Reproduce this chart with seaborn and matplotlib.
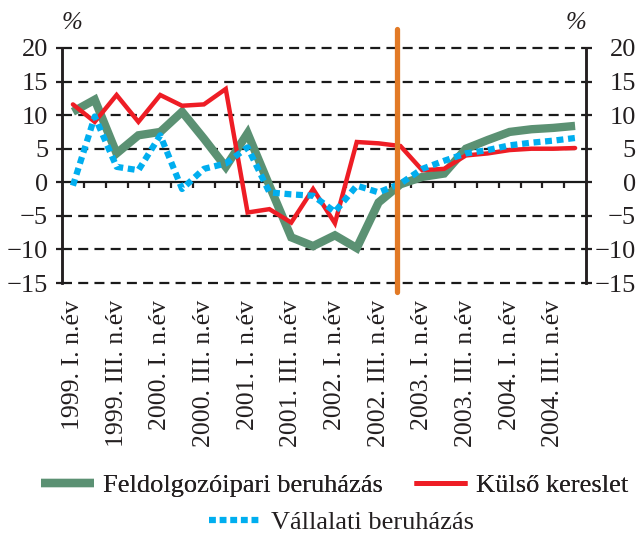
import numpy as np
import pandas as pd
import matplotlib
matplotlib.use("Agg")
import matplotlib.pyplot as plt
import seaborn as sns
from matplotlib.lines import Line2D

years = ["1999", "2000", "2001", "2002", "2003", "2004"]
quarters_roman = ["I.", "II.", "III.", "IV."]
quarter_labels = [f"{y}. {q} n.év" for y in years for q in quarters_roman]

feldolgozoipari = [10.5, 12.3, 4.3, 7.0, 7.5, 10.5, 6.5, 2.3, 7.3, -0.5, -8.2, -9.5,
                   -7.9, -9.8, -3.0, -0.3, 0.8, 1.3, 5.0, 6.3, 7.5, 7.9, 8.1, 8.4]
kulso_kereslet = [11.6, 9.0, 13.0, 9.0, 13.0, 11.4, 11.6, 13.9, -4.5, -4.0, -6.0, -1.0,
                  -6.1, 6.0, 5.8, 5.4, 1.8, 2.0, 4.0, 4.3, 4.8, 5.0, 5.0, 5.1]
vallalati = [-0.5, 9.8, 2.3, 1.8, 7.0, -1.0, 2.0, 2.8, 5.2, -1.5, -1.8, -2.0,
             -4.4, -0.5, -1.5, -0.2, 2.0, 3.2, 4.3, 4.8, 5.5, 5.9, 6.2, 6.6]

series_names = ["Feldolgozóipari beruházás", "Külső kereslet", "Vállalati beruházás"]
yticks = [-15, -10, -5, 0, 5, 10, 15, 20]
forecast_start = 14.85

GREEN = "#5B9173"
RED = "#EE1D25"
BLUE = "#00AEEF"
ORANGE = "#E27A26"
INK = "#231f20"

sns.set_theme(style="white")
plt.rcParams["font.family"] = ["Liberation Serif", "DejaVu Serif"]
plt.rcParams["font.size"] = 18

fig = plt.figure(figsize=(6.39, 5.35), dpi=100)
ax = fig.add_axes([62 / 639, 1 - 283 / 535, (586 - 62) / 639, (283 - 48) / 535])

idx = np.arange(len(quarter_labels))
df = pd.DataFrame({"idx": idx, "green": feldolgozoipari, "red": kulso_kereslet, "blue": vallalati})

# gridlines
for yv in yticks:
    if yv == 0:
        continue
    ax.axhline(yv, color="#1a1a1a", lw=1.6, ls=(0, (4.5, 2.8)), zorder=1, clip_on=False)
ax.axhline(0, color="#1a1a1a", lw=1.6, zorder=1)

sns.lineplot(data=df, x="idx", y="green", ax=ax, color=GREEN, lw=6, zorder=3,
             solid_joinstyle="miter", solid_capstyle="butt")
sns.lineplot(data=df, x="idx", y="red", ax=ax, color=RED, lw=3.2, zorder=4,
             solid_joinstyle="miter")
sns.lineplot(data=df, x="idx", y="blue", ax=ax, color=BLUE, lw=4.5, zorder=5,
             ls=(0, (1.1, 0.75)), dash_capstyle="butt")

ax.plot([forecast_start, forecast_start], [-16.3, 22.8], color=ORANGE, lw=3.8,
        clip_on=False, zorder=6)

ax.set_xlim(-0.5, len(quarter_labels) - 0.5)
ax.set_ylim(-15, 20)
ax.set_xlabel("")
ax.set_ylabel("")

ax.set_xticks(idx[::2])
ax.set_xticklabels(quarter_labels[::2], rotation=90, va="top", ha="center")
ax.tick_params(axis="x", length=0, pad=12, labelsize=18.5, colors=INK)

ylabels = [f"{v}".replace("-", "\u2212") for v in yticks]
ax.set_yticks(yticks)
ax.set_yticklabels(ylabels)
ax.tick_params(axis="y", left=True, right=False, labelleft=True, labelright=False,
               direction="out", length=4, width=1.6, pad=6, labelsize=19, colors=INK)

ax2 = ax.twinx()
ax2.set_ylim(-15, 20)
ax2.set_yticks(yticks)
ax2.set_yticklabels(ylabels)
ax2.tick_params(axis="y", right=True, labelright=True, direction="out", length=4,
                width=1.6, pad=32, labelsize=19, colors=INK)
for t in ax2.get_yticklabels():
    t.set_horizontalalignment("right")
ax2.grid(False)

for a in (ax, ax2):
    for s in ["top", "bottom"]:
        a.spines[s].set_visible(False)
    for s in ["left", "right"]:
        a.spines[s].set_color(INK)
        a.spines[s].set_linewidth(1.8)

# small ticks on zero line at category boundaries
sec = ax.secondary_xaxis(15 / 35)
sec.set_xticks(np.arange(0.5, len(quarter_labels) - 0.5, 1))
sec.tick_params(axis="x", direction="out", length=4, width=1.6, labelbottom=False,
                colors=INK)
sec.spines["bottom"].set_visible(False)

ax.text(0.0, 1.06, "%", transform=ax.transAxes, ha="left", va="bottom", fontsize=18,
        style="italic", color=INK)
ax.text(1.0, 1.06, "%", transform=ax.transAxes, ha="right", va="bottom", fontsize=18,
        style="italic", color=INK)

h_green = Line2D([], [], color=GREEN, lw=6, solid_capstyle="butt")
h_red = Line2D([], [], color=RED, lw=3.5, solid_capstyle="butt")
h_blue = Line2D([], [], color=BLUE, lw=4.5, ls=(0, (1.1, 0.6)), dash_capstyle="butt")

leg1 = fig.legend([h_green, h_red], series_names[:2], loc="center", ncol=2,
                  bbox_to_anchor=(0.524, 0.093), frameon=False, fontsize=19,
                  handlelength=2.0, handletextpad=0.35, columnspacing=1.2)
fig.add_artist(leg1)
leg2 = fig.legend([h_blue], series_names[2:], loc="center", ncol=1,
                  bbox_to_anchor=(0.534, 0.024), frameon=False, fontsize=19,
                  handlelength=2.0, handletextpad=0.35)
for lg in (leg1, leg2):
    for txt in lg.get_texts():
        txt.set_color(INK)

fig.savefig("out.png", dpi=100)
